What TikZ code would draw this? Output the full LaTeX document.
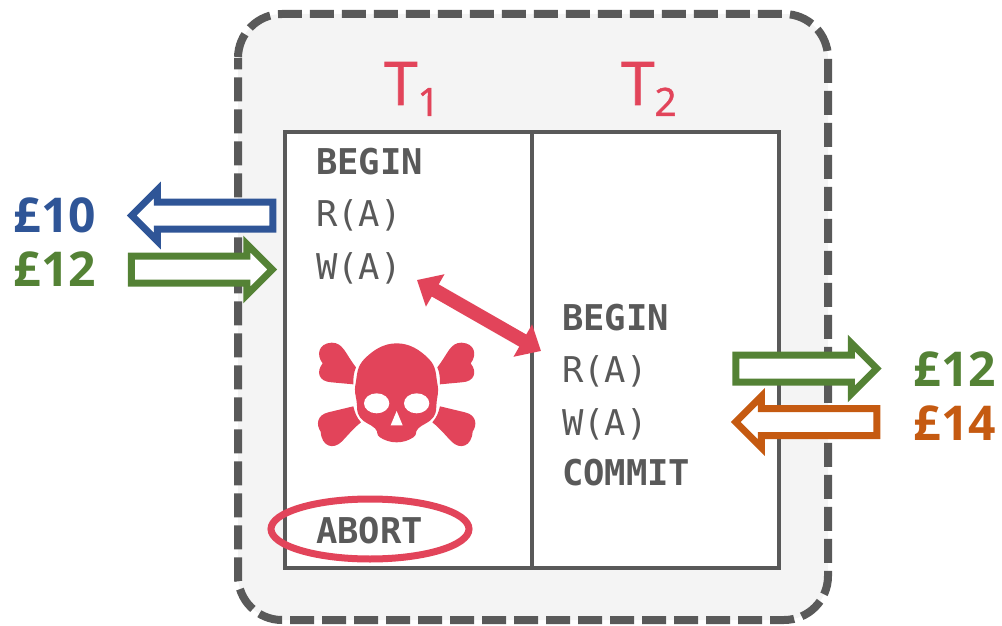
\documentclass[tikz,border=0pt]{standalone}
\usepackage{fontspec}
\setmainfont{Open Sans}
\newfontfamily\codefont{DejaVu Sans Mono}
\newfontfamily\txnfont[FakeBold=1.2]{Open Sans}
\usetikzlibrary{arrows.meta, shapes.geometric, shapes.arrows}
\definecolor{dbgray}{HTML}{595959}
\definecolor{dbpale}{HTML}{F4F4F4}
\definecolor{dbred}{HTML}{E2445A}
\definecolor{dbblue}{HTML}{2F5597}
\definecolor{dbgreen}{HTML}{548235}
\definecolor{dborange}{HTML}{C55A11}
\newcommand{\txnname}[1]{T{\fontsize{39}{40}\selectfont\raisebox{-11pt}{#1}}}
\tikzset{
  op/.style={inner sep=0pt, text width=150pt, text height=26pt, text depth=0pt, align=left, text=dbgray, font=\codefont\fontsize{35.5}{40}\selectfont},
  opbold/.style={op, font=\codefont\bfseries\fontsize{35.5}{40}\selectfont},
  txn/.style={inner sep=0pt, text=dbred, font=\txnfont\fontsize{60}{64}\selectfont},
  price/.style={inner sep=0pt, font=\bfseries\fontsize{48}{52}\selectfont},
  hollow/.style={draw, fill=white, single arrow, line width=7pt, inner sep=10pt, outer sep=0pt, minimum height=141pt, single arrow head extend=12pt, single arrow tip angle=90, single arrow head indent=0pt},
}
\begin{document}
\begin{tikzpicture}[x=1pt, y=-1pt, node distance=52.5pt]
\useasboundingbox (0,0) rectangle (1002,626);
\draw[fill=dbpale, draw=dbgray, line width=8pt, rounded corners=44pt, dash pattern=on 24pt off 8pt, dash phase=12.7pt] (238,14) rectangle (828,620);
\node (t1box)[draw=dbgray, fill=white, line width=4pt, inner sep=0pt, minimum width=247pt, minimum height=436pt] at (408.5,350) {};
\node (t2box)[draw=dbgray, fill=white, line width=4pt, inner sep=0pt, minimum width=247pt, minimum height=436pt] at (655.5,350) {};
\node (t1)[txn] at (412,89) {\txnname{1}};
\node (t2)[txn] at (649,89) {\txnname{2}};
\node (begin1)[opbold] at (391,161) {BEGIN};
\node (read1)[op] [below of = begin1] {R(A)};
\node (write1)[op] [below of = read1] {W(A)};
\node (abort1)[opbold] at (391,530) {ABORT};
\node (begin2)[opbold] at (637,317) {BEGIN};
\node (read2)[op] [below of = begin2] {R(A)};
\node (write2)[op] [below of = read2] {W(A)};
\node (commit2)[opbold] [node distance=50pt, below of = write2] {COMMIT};
\node (abortring)[draw=dbred, ellipse, line width=7pt, inner sep=0pt, minimum width=198pt, minimum height=60pt] at (370,529) {};
\coordinate (w1tip) at (417,280);
\coordinate (r2tip) at (541,351);
\draw[{Triangle[length=21pt,width=36pt]}-{Triangle[length=21pt,width=36pt]}, line width=14pt, color=dbred] (w1tip) -- (r2tip);
\node (oldarrow)[hollow, draw=dbblue, shape border rotate=180] at (209,215.5) {};
\node (newarrow)[hollow, draw=dbgreen] at (195,269.5) {};
\node (readarrow)[hollow, draw=dbgreen] at (799.5,368.5) {};
\node (writearrow)[hollow, draw=dborange, shape border rotate=180] at (813,422) {};
\node (old)[price, text=dbblue] at (55,215) {£10};
\node (new)[price, text=dbgreen] at (55,269) {£12};
\node (readval)[price, text=dbgreen] at (955,369) {£12};
\node (writeval)[price, text=dborange] at (955,423) {£14};
\begin{scope}[shift={(290,330)}, x=0.3333pt, y=-0.3333pt]
\fill[dbred] plot[smooth cycle, tension=0.75] coordinates {(197,160) (225,85) (320,40) (415,85) (442,160) (440,215) (430,262) (385,295) (370,322) (320,337) (270,322) (255,295) (210,262) (200,215)};
\fill[white] (260,220) ellipse [x radius=38, y radius=30];
\fill[white] (380,220) ellipse [x radius=38, y radius=30];
\fill[white] (320,243) -- (338,286) -- (302,286) -- cycle;
\fill[dbred] (190,163) -- (125,157) .. controls (85,155) and (78,125) .. (98,100) .. controls (78,75) and (85,40) .. (125,38) .. controls (160,38) and (165,70) .. (198,112) .. controls (190,130) and (190,145) .. (190,163) -- cycle;
\fill[dbred] (450,163) -- (515,157) .. controls (555,155) and (562,125) .. (542,100) .. controls (562,75) and (555,40) .. (515,38) .. controls (480,38) and (475,70) .. (442,112) .. controls (450,130) and (450,145) .. (450,163) -- cycle;
\fill[dbred] (190,229) -- (115,247) .. controls (80,255) and (78,285) .. (92,305) .. controls (95,350) and (130,360) .. (155,335) .. controls (170,320) and (190,295) .. (213,277) .. controls (200,262) and (195,250) .. (190,229) -- cycle;
\fill[dbred] (450,229) -- (525,247) .. controls (560,255) and (562,285) .. (548,305) .. controls (545,350) and (510,360) .. (485,335) .. controls (470,320) and (450,295) .. (427,277) .. controls (440,262) and (445,250) .. (450,229) -- cycle;
\end{scope}
\end{tikzpicture}
\end{document}
